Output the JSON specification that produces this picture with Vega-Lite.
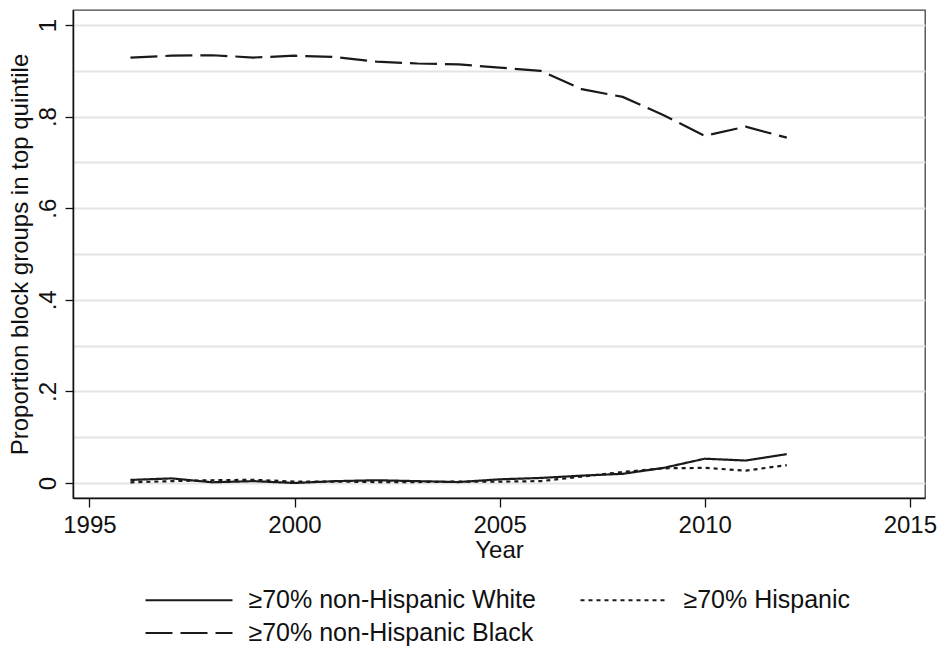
{
  "$schema": "https://vega.github.io/schema/vega-lite/v6.json",
  "width": 852,
  "height": 488,
  "autosize": {"type": "none"},
  "padding": {"left": 73, "top": 10, "right": 20, "bottom": 150},
  "background": "white",
  "config": {
    "font": "Liberation Sans",
    "view": {"stroke": "#444444", "strokeWidth": 1.3},
    "axis": {
      "labelFont": "Liberation Sans",
      "titleFont": "Liberation Sans",
      "labelColor": "#111111",
      "titleColor": "#111111",
      "titleFontWeight": "normal",
      "domainColor": "#111111",
      "domainWidth": 1.5,
      "tickColor": "#111111",
      "tickWidth": 1.3
    },
    "legend": {
      "labelFont": "Liberation Sans",
      "labelColor": "#111111"
    }
  },
  "data": {
    "values": [
      {"year": 1996, "group": "White", "value": 0.0066},
      {"year": 1997, "group": "White", "value": 0.010},
      {"year": 1998, "group": "White", "value": 0.0015},
      {"year": 1999, "group": "White", "value": 0.004},
      {"year": 2000, "group": "White", "value": 0.000},
      {"year": 2001, "group": "White", "value": 0.004},
      {"year": 2002, "group": "White", "value": 0.006},
      {"year": 2003, "group": "White", "value": 0.004},
      {"year": 2004, "group": "White", "value": 0.002},
      {"year": 2005, "group": "White", "value": 0.008},
      {"year": 2006, "group": "White", "value": 0.011},
      {"year": 2007, "group": "White", "value": 0.016},
      {"year": 2008, "group": "White", "value": 0.020},
      {"year": 2009, "group": "White", "value": 0.033},
      {"year": 2010, "group": "White", "value": 0.053},
      {"year": 2011, "group": "White", "value": 0.049},
      {"year": 2012, "group": "White", "value": 0.063},
      {"year": 1996, "group": "Hispanic", "value": 0.0015},
      {"year": 1997, "group": "Hispanic", "value": 0.004},
      {"year": 1998, "group": "Hispanic", "value": 0.006},
      {"year": 1999, "group": "Hispanic", "value": 0.007},
      {"year": 2000, "group": "Hispanic", "value": 0.003},
      {"year": 2001, "group": "Hispanic", "value": 0.003},
      {"year": 2002, "group": "Hispanic", "value": 0.002},
      {"year": 2003, "group": "Hispanic", "value": 0.002},
      {"year": 2004, "group": "Hispanic", "value": 0.003},
      {"year": 2005, "group": "Hispanic", "value": 0.003},
      {"year": 2006, "group": "Hispanic", "value": 0.004},
      {"year": 2007, "group": "Hispanic", "value": 0.014},
      {"year": 2008, "group": "Hispanic", "value": 0.024},
      {"year": 2009, "group": "Hispanic", "value": 0.032},
      {"year": 2010, "group": "Hispanic", "value": 0.033},
      {"year": 2011, "group": "Hispanic", "value": 0.027},
      {"year": 2012, "group": "Hispanic", "value": 0.039},
      {"year": 1996, "group": "Black", "value": 0.929},
      {"year": 1997, "group": "Black", "value": 0.933},
      {"year": 1998, "group": "Black", "value": 0.934},
      {"year": 1999, "group": "Black", "value": 0.929},
      {"year": 2000, "group": "Black", "value": 0.933},
      {"year": 2001, "group": "Black", "value": 0.930},
      {"year": 2002, "group": "Black", "value": 0.920},
      {"year": 2003, "group": "Black", "value": 0.916},
      {"year": 2004, "group": "Black", "value": 0.914},
      {"year": 2005, "group": "Black", "value": 0.907},
      {"year": 2006, "group": "Black", "value": 0.900},
      {"year": 2007, "group": "Black", "value": 0.860},
      {"year": 2008, "group": "Black", "value": 0.843},
      {"year": 2009, "group": "Black", "value": 0.803},
      {"year": 2010, "group": "Black", "value": 0.758},
      {"year": 2011, "group": "Black", "value": 0.778},
      {"year": 2012, "group": "Black", "value": 0.754}
    ]
  },
  "mark": {"type": "line", "color": "#1a1a1a", "strokeWidth": 2.2},
  "encoding": {
    "x": {
      "field": "year",
      "type": "quantitative",
      "scale": {"domain": [1994.6, 2015.37], "nice": false, "zero": false},
      "axis": {
        "values": [1995, 2000, 2005, 2010, 2015],
        "format": "d",
        "grid": false,
        "tickSize": 9,
        "labelFontSize": 24,
        "labelPadding": 6,
        "title": "Year",
        "titleFontSize": 24,
        "titlePadding": 1
      }
    },
    "y": {
      "field": "value",
      "type": "quantitative",
      "scale": {"domain": [-0.0328, 1.0328], "nice": false, "zero": false},
      "axis": {
        "values": [0, 0.1, 0.2, 0.3, 0.4, 0.5, 0.6, 0.7, 0.8, 0.9, 1],
        "labelExpr": "round(datum.value*10)%2!==0 ? '' : (datum.value===0 ? '0' : (datum.value===1 ? '1' : replace(format(datum.value,'.1f'),'0.','.')))",
        "tickColor": {"condition": {"test": "round(datum.value*10)%2===0", "value": "#111111"}, "value": "transparent"},
        "grid": true,
        "gridColor": "#e4e4e4",
        "gridWidth": 2,
        "tickSize": 8,
        "labelAngle": -90,
        "labelAlign": "center",
        "labelBaseline": "bottom",
        "labelPadding": 5,
        "labelFontSize": 24,
        "title": "Proportion block groups in top quintile",
        "titleFontSize": 24,
        "titlePadding": 4
      }
    },
    "strokeDash": {
      "field": "group",
      "type": "nominal",
      "scale": {
        "domain": ["White", "Hispanic", "Black"],
        "range": [[1, 0], [4, 4], [27, 8]]
      },
      "legend": {
        "title": null,
        "orient": "none",
        "legendX": 103.5,
        "legendY": 577.5,
        "direction": "horizontal",
        "columns": 2,
        "columnPadding": 39,
        "rowPadding": 7,
        "symbolType": "M-4,0H4",
        "symbolSize": 473,
        "symbolStrokeWidth": 2.2,
        "symbolStrokeColor": "#1a1a1a",
        "symbolFillColor": "transparent",
        "labelOffset": 47,
        "labelFontSize": 25,
        "labelLimit": 400,
        "labelExpr": "datum.label === 'White' ? '≥70% non-Hispanic White' : (datum.label === 'Hispanic' ? '≥70% Hispanic' : '≥70% non-Hispanic Black')"
      }
    }
  }
}
